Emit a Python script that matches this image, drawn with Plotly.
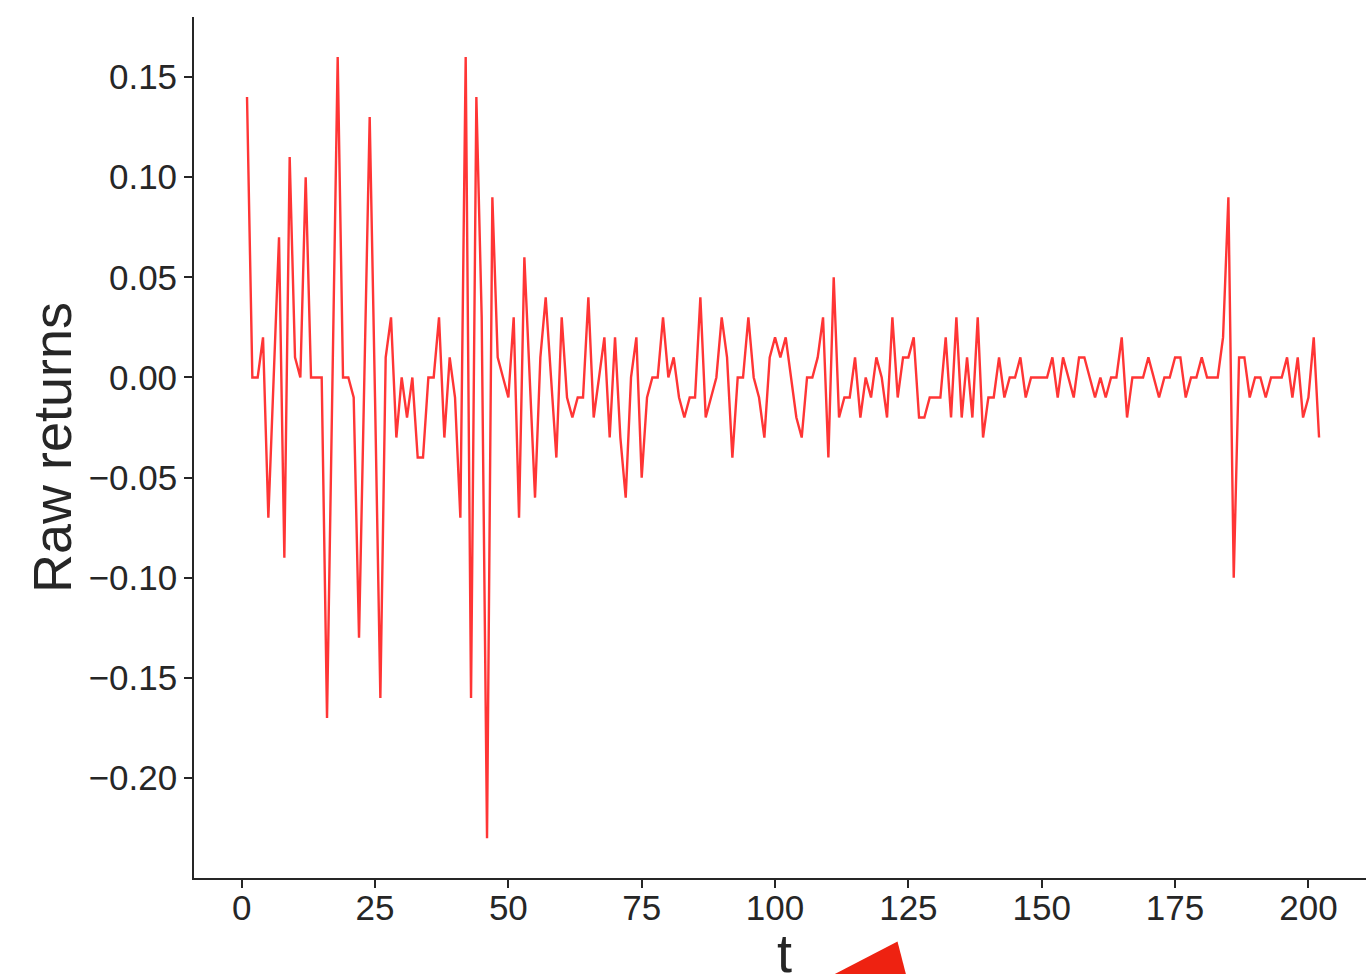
import plotly.graph_objects as go

# ---- data ----
t_values = list(range(1, 203))
raw_returns = [
    0.14, 0.00, 0.00, 0.02, -0.07, 0.00, 0.07, -0.09, 0.11, 0.01,
    0.00, 0.10, 0.00, 0.00, 0.00, -0.17, 0.00, 0.16, 0.00, 0.00,
    -0.01, -0.13, 0.00, 0.13, -0.01, -0.16, 0.01, 0.03, -0.03, 0.00,
    -0.02, 0.00, -0.04, -0.04, 0.00, 0.00, 0.03, -0.03, 0.01, -0.01,
    -0.07, 0.16, -0.16, 0.14, 0.03, -0.23, 0.09, 0.01, 0.00, -0.01,
    0.03, -0.07, 0.06, 0.00, -0.06, 0.01, 0.04, 0.00, -0.04, 0.03,
    -0.01, -0.02, -0.01, -0.01, 0.04, -0.02, 0.00, 0.02, -0.03, 0.02,
    -0.03, -0.06, 0.00, 0.02, -0.05, -0.01, 0.00, 0.00, 0.03, 0.00,
    0.01, -0.01, -0.02, -0.01, -0.01, 0.04, -0.02, -0.01, 0.00, 0.03,
    0.01, -0.04, 0.00, 0.00, 0.03, 0.00, -0.01, -0.03, 0.01, 0.02,
    0.01, 0.02, 0.00, -0.02, -0.03, 0.00, 0.00, 0.01, 0.03, -0.04,
    0.05, -0.02, -0.01, -0.01, 0.01, -0.02, 0.00, -0.01, 0.01, 0.00,
    -0.02, 0.03, -0.01, 0.01, 0.01, 0.02, -0.02, -0.02, -0.01, -0.01,
    -0.01, 0.02, -0.02, 0.03, -0.02, 0.01, -0.02, 0.03, -0.03, -0.01,
    -0.01, 0.01, -0.01, 0.00, 0.00, 0.01, -0.01, 0.00, 0.00, 0.00,
    0.00, 0.01, -0.01, 0.01, 0.00, -0.01, 0.01, 0.01, 0.00, -0.01,
    0.00, -0.01, 0.00, 0.00, 0.02, -0.02, 0.00, 0.00, 0.00, 0.01,
    0.00, -0.01, 0.00, 0.00, 0.01, 0.01, -0.01, 0.00, 0.00, 0.01,
    0.00, 0.00, 0.00, 0.02, 0.09, -0.10, 0.01, 0.01, -0.01, 0.00,
    0.00, -0.01, 0.00, 0.00, 0.00, 0.01, -0.01, 0.01, -0.02, -0.01,
    0.02, -0.03,
]
x_ticks = [0, 25, 50, 75, 100, 125, 150, 175, 200]
y_ticks = [0.15, 0.10, 0.05, 0.00, -0.05, -0.10, -0.15, -0.20]

x_title = "t"
y_title = "Raw returns"

LINE_COLOR = "#ff3535"
AXIS_COLOR = "#262626"
TICK_FONT = dict(family="Liberation Sans, Arial, sans-serif", size=35, color=AXIS_COLOR)
TITLE_FONT = dict(family="Liberation Sans Narrow, Arial Narrow, Liberation Sans, sans-serif",
                  size=54, color=AXIS_COLOR)

fig = go.Figure()
fig.add_trace(go.Scatter(
    x=t_values, y=raw_returns, mode="lines",
    line=dict(color=LINE_COLOR, width=2.4),
    showlegend=False,
))

W, H = 1366, 974
ml, mr, mt, mb = 194, 0, 17, 96
pw, ph = W - ml - mr, H - mt - mb
def px(xp):
    return (xp - ml) / pw
def py(yp):
    return (H - mb - yp) / ph

# decorative red wedge visible at the bottom edge of the reference image
wedge = [(804, 990), (897.5, 941.5), (910, 990)]
path = "M " + " L ".join(f"{px(a):.5f},{py(b):.5f}" for a, b in wedge) + " Z"
fig.add_shape(type="path", path=path, xref="paper", yref="paper",
              fillcolor="#ee2211", line=dict(width=0), layer="above")

# x-axis title, placed as text below the tick labels
fig.add_annotation(text=x_title, xref="paper", yref="paper",
                   x=px(784), y=py(921), xanchor="center", yanchor="top",
                   showarrow=False, font=TITLE_FONT)

fig.update_layout(
    width=W, height=H,
    margin=dict(l=ml, r=mr, t=mt, b=mb, pad=0, autoexpand=False),
    paper_bgcolor="white", plot_bgcolor="white",
    showlegend=False,
)
fig.update_xaxes(
    range=[-8.94, 210.8],
    automargin=False,
    tickmode="array", tickvals=x_ticks,
    ticks="outside", ticklen=8, tickwidth=1.6, tickcolor=AXIS_COLOR,
    showline=True, linecolor=AXIS_COLOR, linewidth=1.8,
    showgrid=False, zeroline=False,
    tickfont=TICK_FONT,
    ticklabelstandoff=-10,
)
fig.update_yaxes(
    range=[-0.2499, 0.17996],
    automargin=False,
    tickmode="array", tickvals=y_ticks, tickformat=".2f",
    ticks="outside", ticklen=8, tickwidth=1.6, tickcolor=AXIS_COLOR,
    showline=True, linecolor=AXIS_COLOR, linewidth=1.8,
    showgrid=False, zeroline=False,
    tickfont=TICK_FONT,
    ticklabelstandoff=0,
    title=dict(text=y_title, font=TITLE_FONT, standoff=0),
)

fig.write_html(
    "out.html",
    config={"displayModeBar": False},
    post_script="document.body.style.margin='0';document.body.style.overflow='hidden';",
)
